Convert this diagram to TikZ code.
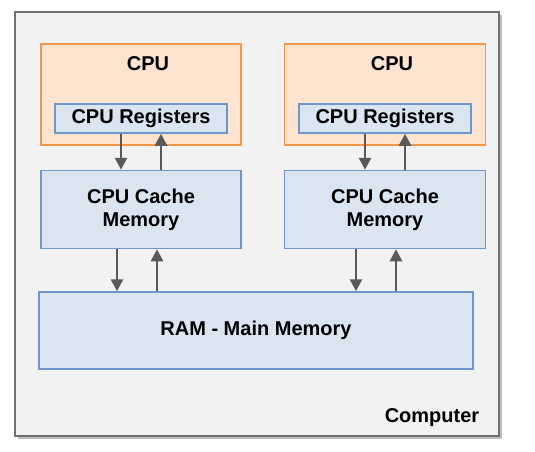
\documentclass[tikz,border=0pt]{standalone}
\usepackage{fontspec}
\setmainfont{Liberation Sans}
\usetikzlibrary{arrows.meta}
\definecolor{boxfill}{HTML}{DBE5F1}
\definecolor{boxline}{HTML}{6F97CB}
\definecolor{cpufill}{HTML}{FDE4D0}
\definecolor{cpuline}{HTML}{F79646}
\definecolor{outfill}{HTML}{F2F2F2}
\definecolor{outline}{HTML}{707070}
\definecolor{arrcol}{HTML}{595959}
\tikzset{
  lbl/.style={font=\fontsize{20}{23}\selectfont\bfseries, text=black, align=center, inner sep=0pt},
  bluebox/.style={draw=boxline, fill=boxfill, line width=1.5pt, rectangle, inner sep=0pt, lbl},
  cpubox/.style={draw=cpuline, fill=cpufill, line width=1.5pt, rectangle, inner sep=0pt},
  arr/.style={draw=arrcol, line width=2.6pt, -{Triangle[width=12pt,length=12pt]}},
}
\begin{document}
\begin{tikzpicture}[x=1pt,y=-1pt]
\useasboundingbox (0,0) rectangle (535,451);
% shadow
\fill[black!25] (18,15) rectangle (502,439);
\node[draw=outline, fill=outfill, line width=2pt, minimum width=484pt, minimum height=424pt, inner sep=0pt] (comp) at (257,224) {};
\node[lbl] (complbl) at (432,418) {Computer};
% CPU 1
\node[cpubox, minimum width=200pt, minimum height=101pt] (cpu1) at (141,94.5) {};
\node[lbl] (cpu1lbl) at (148,64) {CPU};
\node[bluebox, minimum width=172pt, minimum height=29pt] (reg1) at (141,118.5) {CPU Registers};
\node[bluebox, minimum width=200pt, minimum height=78pt] (cache1) at (141,209.5) {CPU Cache\\Memory};
% CPU 2
\node[cpubox, minimum width=201pt, minimum height=101pt] (cpu2) at (385,94.5) {};
\node[lbl] (cpu2lbl) at (392,64) {CPU};
\node[bluebox, minimum width=172pt, minimum height=29pt] (reg2) at (385,118.5) {CPU Registers};
\node[bluebox, minimum width=201pt, minimum height=78pt] (cache2) at (385,209.5) {CPU Cache\\Memory};
% RAM
\node[bluebox, minimum width=434pt, minimum height=77pt] (ram) at (256,330.5) {RAM - Main Memory};
% arrows
\draw[arr] ([xshift=-20pt]reg1.south) -- ([xshift=-20pt]cache1.north);
\draw[arr] ([xshift=20pt]cache1.north) -- ([xshift=20pt]reg1.south);
\draw[arr] ([xshift=-20pt]reg2.south) -- ([xshift=-20pt]cache2.north);
\draw[arr] ([xshift=20pt]cache2.north) -- ([xshift=20pt]reg2.south);
\draw[arr] ([xshift=-24pt]cache1.south) -- ([xshift=-24pt]cache1.south |- ram.north);
\draw[arr] ([xshift=16pt]cache1.south |- ram.north) -- ([xshift=16pt]cache1.south);
\draw[arr] ([xshift=-29pt]cache2.south) -- ([xshift=-29pt]cache2.south |- ram.north);
\draw[arr] ([xshift=11pt]cache2.south |- ram.north) -- ([xshift=11pt]cache2.south);
\end{tikzpicture}
\end{document}
